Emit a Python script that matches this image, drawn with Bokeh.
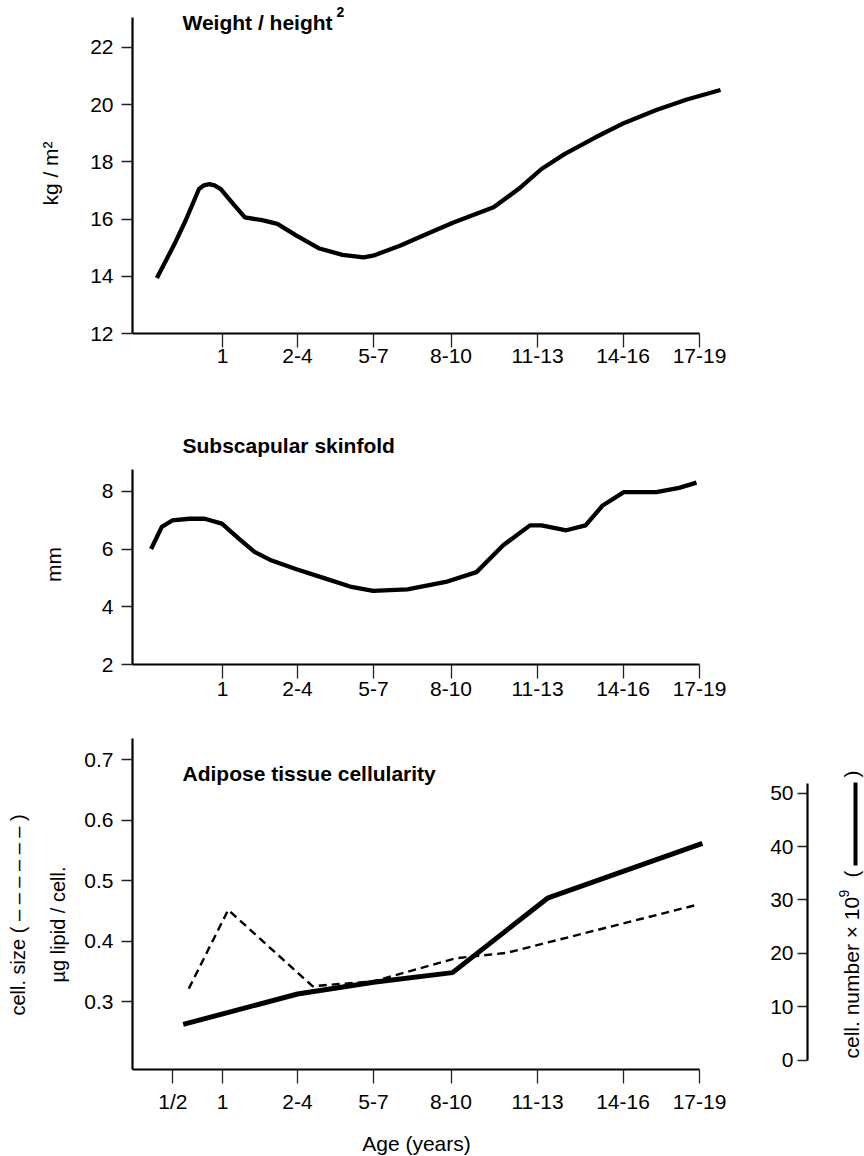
import math
from bokeh.plotting import figure
from bokeh.models import Range1d, FixedTicker, Label, BoxAnnotation
from bokeh.layouts import column, row
from bokeh.embed import file_html
from bokeh.resources import INLINE

FONT = "Liberation Sans"

# ---- data -----------------------------------------------------------------
age_labels = ["1/2", "1", "2-4", "5-7", "8-10", "11-13", "14-16", "17-19"]
age_pos = [4.03, 9.0, 16.5, 24.1, 31.85, 40.5, 49.05, 56.7]

bmi_x = [2.44, 4.16, 5.3, 6.65, 7.15, 7.68, 8.2, 8.83, 10.09, 11.24, 12.96, 14.49,
         16.4, 18.7, 21.0, 23.1, 24.06, 26.74, 29.42, 32.1, 36.11, 38.6, 40.9,
         43.2, 46.26, 48.93, 52.38, 55.44, 58.8]
bmi_y = [13.94, 15.10, 15.94, 17.05, 17.18, 17.22, 17.18, 17.05, 16.52, 16.06, 15.96,
         15.83, 15.42, 14.97, 14.75, 14.66, 14.72, 15.07, 15.48, 15.88, 16.41, 17.05,
         17.75, 18.27, 18.85, 19.32, 19.81, 20.18, 20.51]

skin_x = [1.86, 2.93, 3.97, 5.69, 7.22, 8.94, 10.66, 12.2, 13.92, 16.4, 19.08, 21.76,
          24.06, 27.5, 31.33, 34.4, 37.07, 39.75, 40.9, 43.38, 45.3, 47.02, 49.13,
          52.38, 54.67, 56.4]
skin_y = [6.0, 6.77, 6.99, 7.05, 7.05, 6.88, 6.35, 5.9, 5.6, 5.3, 5.0, 4.7, 4.55, 4.6,
          4.86, 5.2, 6.13, 6.82, 6.82, 6.65, 6.82, 7.51, 7.97, 7.97, 8.12, 8.30]

cell_number_x = [5.07, 16.5, 24.1, 32.0, 41.56, 56.99]
cell_number_y = [6.7, 12.4, 14.6, 16.4, 30.4, 40.6]

cell_size_x = [5.63, 9.57, 18.0, 24.1, 32.3, 37.4, 56.6]
cell_size_y = [0.322, 0.452, 0.326, 0.334, 0.372, 0.381, 0.461]

bmi_ticks = [12, 14, 16, 18, 20, 22]
skin_ticks = [2, 4, 6, 8]
size_ticks = [0.3, 0.4, 0.5, 0.6, 0.7]
number_ticks = [0, 10, 20, 30, 40, 50]

X_END = 60.8
LEFT_W = 75   # width of the strip that holds the rotated y-axis titles


def make_fig(width, height, y_range, left, right, top, bottom, **kw):
    p = figure(width=width, height=height, x_range=Range1d(0, X_END), y_range=y_range,
               output_backend="svg", toolbar_location=None,
               min_border_left=left, min_border_right=right,
               min_border_top=top, min_border_bottom=bottom, **kw)
    p.outline_line_color = None
    p.xgrid.visible = False
    p.ygrid.visible = False
    p.background_fill_color = "white"
    p.border_fill_color = "white"
    return p


def text_strip(width, height, top, bottom):
    p = make_fig(width, height, Range1d(0, 1), 0, 0, top, bottom,
                 x_axis_type=None, y_axis_type=None)
    p.x_range = Range1d(0, 1)
    return p


def style_axis(ax, tick_out, standoff):
    ax.axis_line_width = 2.2
    ax.axis_line_color = "black"
    ax.major_tick_line_color = "#222222"
    ax.major_tick_line_width = 1.3
    ax.major_tick_in = 0
    ax.major_tick_out = tick_out
    ax.minor_tick_line_color = None
    ax.major_label_text_font = FONT
    ax.major_label_text_font_size = "21px"
    ax.major_label_text_color = "black"
    ax.major_label_standoff = standoff


def set_age_axis(p, labels, positions, standoff):
    ax = p.xaxis[0]
    style_axis(ax, 14, standoff)
    ax.ticker = FixedTicker(ticks=positions)
    ax.major_label_overrides = {pos: lab for pos, lab in zip(positions, labels)}
    ax.bounds = (0, age_pos[-1])


def add_label(p, text, x, y, size="21px", bold=False, angle=0.0,
              align="left", baseline="alphabetic"):
    p.add_layout(Label(x=x, y=y, x_units="screen", y_units="screen", text=text,
                       text_font=FONT, text_font_size=size,
                       text_font_style="bold" if bold else "normal",
                       angle=angle, text_align=align, text_baseline=baseline,
                       text_color="black"))


def vlabel(p, text, x, y, size="21px", align="center"):
    add_label(p, text, x, y, size=size, angle=math.pi / 2,
              align=align, baseline="middle")


# ---- panel 1 : weight / height^2 -----------------------------------------
p1 = make_fig(864 - LEFT_W, 400, Range1d(12, 23.64), 132 - LEFT_W, 124, 0, 67)
p1.line(bmi_x, bmi_y, line_width=4.3, line_color="black", line_join="round")
set_age_axis(p1, age_labels[1:], age_pos[1:], 1)
style_axis(p1.yaxis[0], 11, 8)
p1.yaxis[0].ticker = FixedTicker(ticks=bmi_ticks)
p1.yaxis[0].bounds = (12, 23.03)
add_label(p1, "Weight / height", 50, 311, bold=True)
add_label(p1, "2", 204, 322, size="14px", bold=True)
l1 = text_strip(LEFT_W, 400, 0, 67)
vlabel(l1, "kg / m²", 50, 160)

# ---- panel 2 : subscapular skinfold --------------------------------------
p2 = make_fig(864 - LEFT_W, 300, Range1d(2, 10.107), 132 - LEFT_W, 124, 30, 36)
p2.line(skin_x, skin_y, line_width=4.3, line_color="black", line_join="round")
set_age_axis(p2, age_labels[1:], age_pos[1:], 3)
style_axis(p2.yaxis[0], 11, 8)
p2.yaxis[0].ticker = FixedTicker(ticks=skin_ticks)
p2.yaxis[0].bounds = (2, 8.75)
add_label(p2, "Subscapular skinfold", 50, 219, bold=True)
l2 = text_strip(LEFT_W, 300, 30, 36)
vlabel(l2, "mm", 53, 100)

# ---- panel 3 : adipose tissue cellularity --------------------------------
p3 = make_fig(740 - LEFT_W, 426, Range1d(0.1884, 0.7648), 132 - LEFT_W, 0, 20, 57)
p3.extra_y_ranges = {"number": Range1d(-1.74, 63.6)}
p3.line(cell_size_x, cell_size_y, line_width=2.4, line_color="black",
        line_dash="8 5")
p3.line(cell_number_x, cell_number_y, line_width=5, line_color="black",
        line_join="round", y_range_name="number")
set_age_axis(p3, age_labels, age_pos, 6)
style_axis(p3.yaxis[0], 11, 8)
p3.yaxis[0].ticker = FixedTicker(ticks=size_ticks)
p3.yaxis[0].bounds = (0.1884, 0.7347)
add_label(p3, "Adipose tissue cellularity", 50, 296, bold=True)
l3 = text_strip(LEFT_W, 426, 20, 57)
vlabel(l3, "µg lipid / cell.", 57, 87, size="20px", align="left")
vlabel(l3, "cell. size ( – – – – – – )", 17, 54, size="20px", align="left")

# right-hand axis: cell number
p4 = make_fig(124, 426, Range1d(-1.74, 63.6), 67, 0, 20, 57, x_axis_type=None)
p4.x_range = Range1d(0, 1)
style_axis(p4.yaxis[0], 10, 4)
p4.yaxis[0].ticker = FixedTicker(ticks=number_ticks)
p4.yaxis[0].bounds = (0, 51.8)
add_label(p4, "cell. number × 10", 44, 11, size="21px", angle=math.pi / 2)
add_label(p4, "9", 36, 172, size="14px", angle=math.pi / 2)
add_label(p4, "(", 44, 192, size="21px", angle=math.pi / 2)
add_label(p4, ")", 44, 292, size="21px", angle=math.pi / 2)
p4.add_layout(BoxAnnotation(left=46, right=50, bottom=204, top=287,
                            left_units="screen", right_units="screen",
                            top_units="screen", bottom_units="screen",
                            fill_color="black", fill_alpha=1.0, line_color=None))

# x-axis title strip
pa = text_strip(864, 30, 0, 0)
add_label(pa, "Age (years)", 416, 13, size="21px", align="center", baseline="middle")

layout = column(row(l1, p1), row(l2, p2), row(l3, p3, p4), pa)
open("out.html", "w").write(file_html(layout, INLINE))
